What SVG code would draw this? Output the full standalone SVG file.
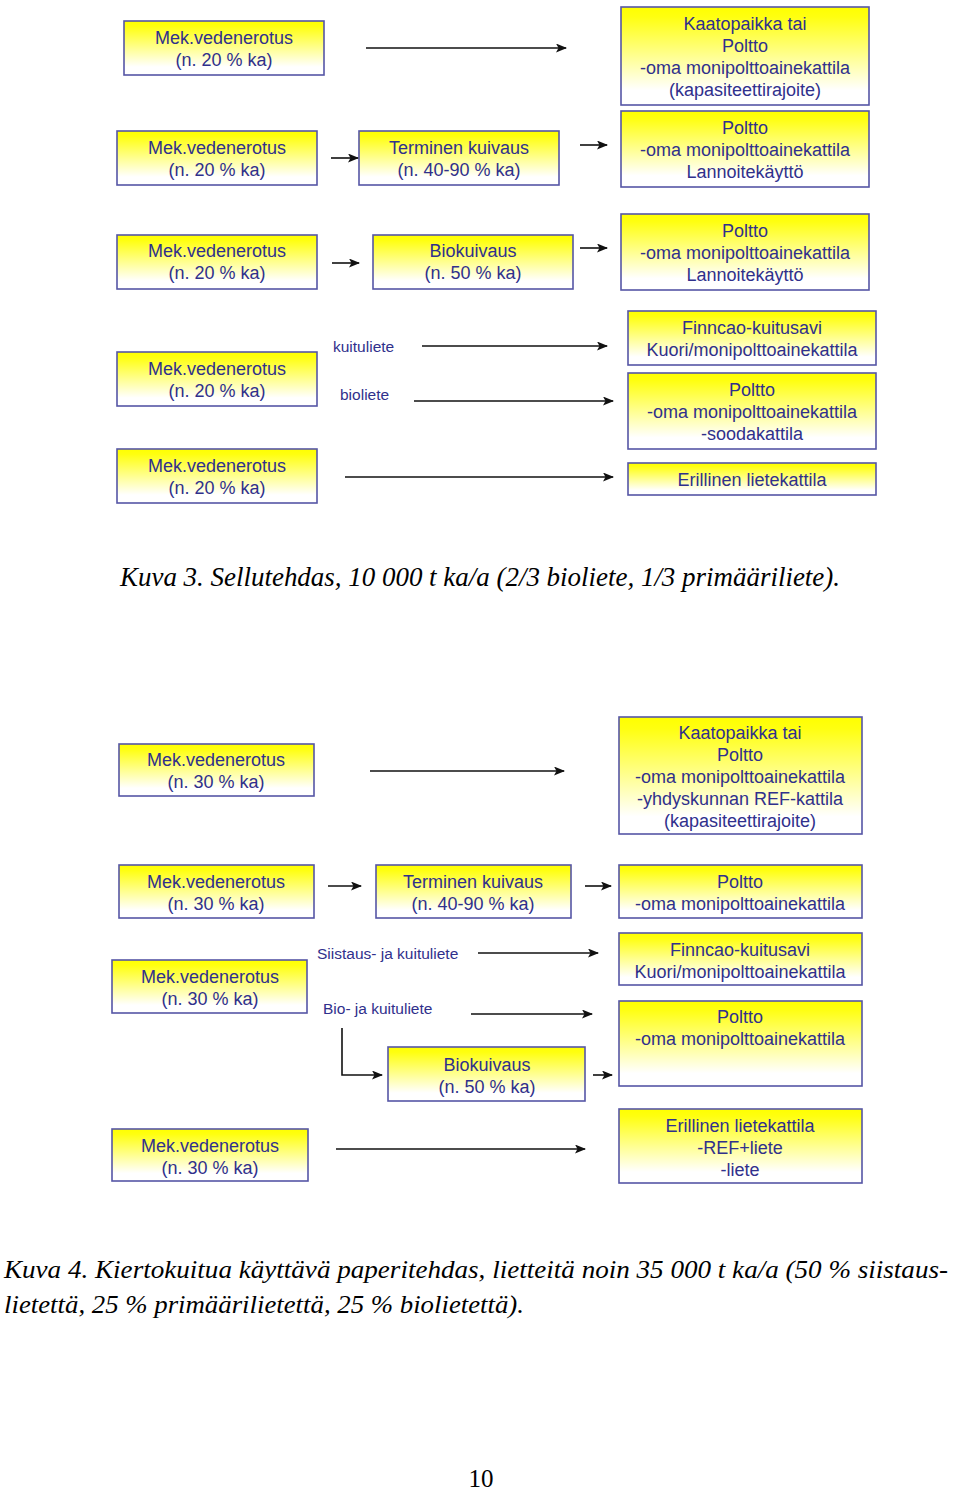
<svg xmlns="http://www.w3.org/2000/svg" width="960" height="1492" viewBox="0 0 960 1492">
<defs>
<linearGradient id="yg" x1="0" y1="0" x2="0" y2="1">
<stop offset="0" stop-color="#ffff00"/>
<stop offset="0.1" stop-color="#ffff10"/>
<stop offset="0.55" stop-color="#ffffa0"/>
<stop offset="0.85" stop-color="#ffffff"/>
<stop offset="1" stop-color="#ffffff"/>
</linearGradient>
<marker id="ah" markerUnits="userSpaceOnUse" markerWidth="13" markerHeight="10" refX="10" refY="4.5" orient="auto">
<path d="M0,0 L11,4.5 L0,9 L2.5,4.5 Z" fill="#111"/>
</marker>
<style>
.box{fill:url(#yg);stroke:#5656a6;stroke-width:1.6}
.t{font-family:"Liberation Sans",Arial,sans-serif;font-size:18px;fill:#30308c;text-anchor:middle}
.lbl{font-family:"Liberation Sans",Arial,sans-serif;font-size:15.5px;fill:#30308c}
.c{stroke:#111;stroke-width:1.6;fill:none;marker-end:url(#ah)}
.cap{font-family:"Liberation Serif","Times New Roman",serif;font-style:italic;font-size:28px;fill:#000}
.cap2{font-family:"Liberation Serif","Times New Roman",serif;font-style:italic;font-size:26px;fill:#000}
</style>
</defs>
<rect width="960" height="1492" fill="#fff"/>

<!-- Diagram 1 -->
<g id="d1a1"><rect class="box" x="124" y="21" width="200" height="54"/><text class="t" x="224" y="43.5">Mek.vedenerotus</text><text class="t" x="224" y="65.5">(n. 20 % ka)</text></g>
<g id="d1r1"><rect class="box" x="621" y="7" width="248" height="98"/><text class="t" x="745" y="29.5">Kaatopaikka tai</text><text class="t" x="745" y="51.5">Poltto</text><text class="t" x="745" y="74">-oma monipolttoainekattila</text><text class="t" x="745" y="96">(kapasiteettirajoite)</text></g>
<g id="d1a2"><rect class="box" x="117" y="131" width="200" height="54"/><text class="t" x="217" y="153.5">Mek.vedenerotus</text><text class="t" x="217" y="175.5">(n. 20 % ka)</text></g>
<g id="d1t2"><rect class="box" x="359" y="131" width="200" height="54"/><text class="t" x="459" y="153.5">Terminen kuivaus</text><text class="t" x="459" y="175.5">(n. 40-90 % ka)</text></g>
<g id="d1r2"><rect class="box" x="621" y="111" width="248" height="76"/><text class="t" x="745" y="133.5">Poltto</text><text class="t" x="745" y="155.5">-oma monipolttoainekattila</text><text class="t" x="745" y="177.5">Lannoitekäyttö</text></g>
<g id="d1a3"><rect class="box" x="117" y="235" width="200" height="54"/><text class="t" x="217" y="256.5">Mek.vedenerotus</text><text class="t" x="217" y="278.5">(n. 20 % ka)</text></g>
<g id="d1b3"><rect class="box" x="373" y="235" width="200" height="54"/><text class="t" x="473" y="256.5">Biokuivaus</text><text class="t" x="473" y="278.5">(n. 50 % ka)</text></g>
<g id="d1r3"><rect class="box" x="621" y="214" width="248" height="76"/><text class="t" x="745" y="236.5">Poltto</text><text class="t" x="745" y="258.5">-oma monipolttoainekattila</text><text class="t" x="745" y="280.5">Lannoitekäyttö</text></g>
<g id="d1a4"><rect class="box" x="117" y="352" width="200" height="54"/><text class="t" x="217" y="374.5">Mek.vedenerotus</text><text class="t" x="217" y="396.5">(n. 20 % ka)</text></g>
<g id="d1a5"><rect class="box" x="117" y="449" width="200" height="54"/><text class="t" x="217" y="471.5">Mek.vedenerotus</text><text class="t" x="217" y="493.5">(n. 20 % ka)</text></g>
<g id="d1f4"><rect class="box" x="628" y="311" width="248" height="54"/><text class="t" x="752" y="333.5">Finncao-kuitusavi</text><text class="t" x="752" y="355.5">Kuori/monipolttoainekattila</text></g>
<g id="d1p4"><rect class="box" x="628" y="373" width="248" height="76"/><text class="t" x="752" y="395.5">Poltto</text><text class="t" x="752" y="417.5">-oma monipolttoainekattila</text><text class="t" x="752" y="439.5">-soodakattila</text></g>
<g id="d1e5"><rect class="box" x="628" y="463" width="248" height="32"/><text class="t" x="752" y="485.5">Erillinen lietekattila</text></g>

<g id="d1labels">
<text class="lbl" x="333" y="351.5">kuituliete</text>
<text class="lbl" x="340" y="399.5">bioliete</text>
</g>

<g id="connectors1">
<line class="c" x1="366" y1="48" x2="566" y2="48"/>
<line class="c" x1="331" y1="158" x2="358" y2="158"/>
<line class="c" x1="580" y1="145" x2="607" y2="145"/>
<line class="c" x1="332" y1="263" x2="359" y2="263"/>
<line class="c" x1="580" y1="248" x2="607" y2="248"/>
<line class="c" x1="422" y1="346" x2="607" y2="346"/>
<line class="c" x1="414" y1="401" x2="613" y2="401"/>
<line class="c" x1="345" y1="477" x2="613" y2="477"/>
</g>

<text class="cap" x="120" y="586" textLength="720" lengthAdjust="spacingAndGlyphs">Kuva 3. Sellutehdas, 10 000 t ka/a (2/3 bioliete, 1/3 primääriliete).</text>

<!-- Diagram 2 -->
<g id="d2a1"><rect class="box" x="119" y="744" width="195" height="52"/><text class="t" x="216" y="765.5">Mek.vedenerotus</text><text class="t" x="216" y="787.5">(n. 30 % ka)</text></g>
<g id="d2r1"><rect class="box" x="619" y="717" width="243" height="117"/><text class="t" x="740" y="738.5">Kaatopaikka tai</text><text class="t" x="740" y="760.5">Poltto</text><text class="t" x="740" y="782.5">-oma monipolttoainekattila</text><text class="t" x="740" y="804.5">-yhdyskunnan REF-kattila</text><text class="t" x="740" y="826.5">(kapasiteettirajoite)</text></g>
<g id="d2a2"><rect class="box" x="119" y="865" width="195" height="53"/><text class="t" x="216" y="887.5">Mek.vedenerotus</text><text class="t" x="216" y="909.5">(n. 30 % ka)</text></g>
<g id="d2t2"><rect class="box" x="376" y="865" width="195" height="53"/><text class="t" x="473" y="887.5">Terminen kuivaus</text><text class="t" x="473" y="909.5">(n. 40-90 % ka)</text></g>
<g id="d2r2"><rect class="box" x="619" y="865" width="243" height="53"/><text class="t" x="740" y="887.5">Poltto</text><text class="t" x="740" y="909.5">-oma monipolttoainekattila</text></g>
<g id="d2a3"><rect class="box" x="112" y="960" width="195" height="53"/><text class="t" x="210" y="982.5">Mek.vedenerotus</text><text class="t" x="210" y="1004.5">(n. 30 % ka)</text></g>
<g id="d2f3"><rect class="box" x="619" y="933" width="243" height="52"/><text class="t" x="740" y="955.5">Finncao-kuitusavi</text><text class="t" x="740" y="977.5">Kuori/monipolttoainekattila</text></g>
<g id="d2p3"><rect class="box" x="619" y="1001" width="243" height="85"/><text class="t" x="740" y="1022.5">Poltto</text><text class="t" x="740" y="1044.5">-oma monipolttoainekattila</text></g>
<g id="d2b3"><rect class="box" x="388" y="1047" width="197" height="54"/><text class="t" x="487" y="1070.5">Biokuivaus</text><text class="t" x="487" y="1092.5">(n. 50 % ka)</text></g>
<g id="d2e4"><rect class="box" x="619" y="1109" width="243" height="74"/><text class="t" x="740" y="1131.5">Erillinen lietekattila</text><text class="t" x="740" y="1153.5">-REF+liete</text><text class="t" x="740" y="1175.5">-liete</text></g>
<g id="d2a4"><rect class="box" x="112" y="1129" width="196" height="52"/><text class="t" x="210" y="1151.5">Mek.vedenerotus</text><text class="t" x="210" y="1173.5">(n. 30 % ka)</text></g>

<g id="d2labels">
<text class="lbl" x="317" y="958.5">Siistaus- ja kuituliete</text>
<text class="lbl" x="323" y="1013.5">Bio- ja kuituliete</text>
</g>

<g id="connectors2">
<line class="c" x1="370" y1="771" x2="564" y2="771"/>
<line class="c" x1="328" y1="886" x2="361" y2="886"/>
<line class="c" x1="585" y1="886" x2="611" y2="886"/>
<line class="c" x1="478" y1="953" x2="598" y2="953"/>
<line class="c" x1="471" y1="1014" x2="592" y2="1014"/>
<polyline class="c" points="342,1028 342,1075 382,1075"/>
<line class="c" x1="593" y1="1075" x2="612" y2="1075"/>
<line class="c" x1="336" y1="1149" x2="585" y2="1149"/>
</g>

<text class="cap2" x="4" y="1278" textLength="944" lengthAdjust="spacingAndGlyphs">Kuva 4. Kiertokuitua käyttävä paperitehdas, lietteitä noin 35 000 t ka/a (50 % siistaus-</text>
<text class="cap2" x="4" y="1313" textLength="520" lengthAdjust="spacingAndGlyphs">lietettä, 25 % primäärilietettä, 25 % biolietettä).</text>

<text x="481" y="1487" text-anchor="middle" font-family="'Liberation Serif','Times New Roman',serif" font-size="25" fill="#000">10</text>
</svg>
